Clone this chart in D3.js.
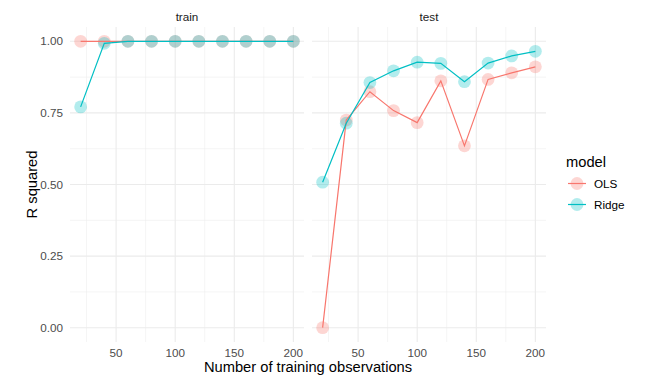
<!DOCTYPE html>
<html>
<head>
<meta charset="utf-8">
<script src="https://cdn.jsdelivr.net/npm/d3@7"></script>
<style>
  body { margin: 0; background: #fff; }
  text { font-family: "Liberation Sans", Arial, sans-serif; }
</style>
</head>
<body>
<svg id="chart" width="653" height="386"></svg>
<script>
// data
var nObs = [20, 40, 60, 80, 100, 120, 140, 160, 180, 200];
var panels = ["train", "test"];
var models = ["OLS", "Ridge"];
var trainOLS   = [1.000, 1.000, 1.000, 1.000, 1.000, 1.000, 1.000, 1.000, 1.000, 1.000];
var trainRidge = [0.771, 0.993, 1.000, 1.000, 1.000, 1.000, 1.000, 1.000, 1.000, 1.000];
var testOLS    = [0.000, 0.725, 0.824, 0.758, 0.716, 0.862, 0.635, 0.867, 0.890, 0.911];
var testRidge  = [0.508, 0.714, 0.856, 0.897, 0.927, 0.923, 0.859, 0.924, 0.949, 0.965];
var xTicks = [50, 100, 150, 200];
var xMinor = [25, 75, 125, 175];
var yTicks = [0, 0.25, 0.5, 0.75, 1];
var yMinor = [0.125, 0.375, 0.625, 0.875];

var series = {
  train: { OLS: trainOLS, Ridge: trainRidge },
  test:  { OLS: testOLS,  Ridge: testRidge }
};
var colour = d3.scaleOrdinal().domain(models).range(["#F8766D", "#00BFC4"]);

var svg = d3.select("#chart");
var plotTop = 27, plotBottom = 342;
var panelLeft = { train: 70, test: 312 };
var panelW = 234;
var ptR = 6.4;

var y = d3.scaleLinear().domain([-0.05, 1.05]).range([plotBottom, plotTop]);

panels.forEach(function(p) {
  var x = d3.scaleLinear().domain([11, 209]).range([panelLeft[p], panelLeft[p] + panelW]);
  var g = svg.append("g");

  // grid
  g.selectAll(".ymin").data(yMinor).enter().append("line")
    .attr("x1", x.range()[0]).attr("x2", x.range()[1])
    .attr("y1", y).attr("y2", y)
    .attr("stroke", "#EBEBEB").attr("stroke-width", 0.55);
  g.selectAll(".xmin").data(xMinor).enter().append("line")
    .attr("y1", plotTop).attr("y2", plotBottom)
    .attr("x1", x).attr("x2", x)
    .attr("stroke", "#EBEBEB").attr("stroke-width", 0.55);
  g.selectAll(".ymaj").data(yTicks).enter().append("line")
    .attr("x1", x.range()[0]).attr("x2", x.range()[1])
    .attr("y1", y).attr("y2", y)
    .attr("stroke", "#EBEBEB").attr("stroke-width", 1.1);
  g.selectAll(".xmaj").data(xTicks).enter().append("line")
    .attr("y1", plotTop).attr("y2", plotBottom)
    .attr("x1", x).attr("x2", x)
    .attr("stroke", "#EBEBEB").attr("stroke-width", 1.1);

  // x tick labels
  g.selectAll(".xl").data(xTicks).enter().append("text")
    .attr("x", x).attr("y", 357)
    .attr("text-anchor", "middle")
    .attr("font-size", 11.7).attr("fill", "#4D4D4D")
    .text(function(d) { return d; });

  // strip
  g.append("text")
    .attr("x", panelLeft[p] + panelW / 2).attr("y", 21)
    .attr("text-anchor", "middle")
    .attr("font-size", 11.7).attr("fill", "#1A1A1A")
    .text(p);

  // points
  models.forEach(function(m) {
    g.selectAll(".pt-" + m).data(series[p][m]).enter().append("circle")
      .attr("cx", function(d, i) { return x(nObs[i]); })
      .attr("cy", function(d) { return y(d); })
      .attr("r", ptR)
      .attr("fill", colour(m)).attr("fill-opacity", 0.3);
  });

  // lines
  var line = d3.line()
    .x(function(d, i) { return x(nObs[i]); })
    .y(function(d) { return y(d); });
  models.forEach(function(m) {
    g.append("path").datum(series[p][m])
      .attr("d", line)
      .attr("fill", "none")
      .attr("stroke", colour(m)).attr("stroke-width", 1.2);
  });
});

// y tick labels
svg.selectAll(".yl").data(yTicks).enter().append("text")
  .attr("x", 63).attr("y", function(d) { return y(d) + 4; })
  .attr("text-anchor", "end")
  .attr("font-size", 11.7).attr("fill", "#4D4D4D")
  .text(d3.format(".2f"));

// axis titles
svg.append("text")
  .attr("x", 308).attr("y", 372)
  .attr("text-anchor", "middle")
  .attr("font-size", 14.7).attr("fill", "#000")
  .text("Number of training observations");
svg.append("text")
  .attr("transform", "translate(37," + ((plotTop + plotBottom) / 2) + ") rotate(-90)")
  .attr("text-anchor", "middle")
  .attr("font-size", 14.7).attr("fill", "#000")
  .text("R squared");

// legend
var legend = svg.append("g");
legend.append("text")
  .attr("x", 566).attr("y", 167)
  .attr("font-size", 14.7).attr("fill", "#000")
  .text("model");
models.forEach(function(m, i) {
  var cy = 183.5 + i * 21;
  legend.append("circle")
    .attr("cx", 577).attr("cy", cy).attr("r", ptR)
    .attr("fill", colour(m)).attr("fill-opacity", 0.3);
  legend.append("line")
    .attr("x1", 568).attr("x2", 586).attr("y1", cy).attr("y2", cy)
    .attr("stroke", colour(m)).attr("stroke-width", 1.2);
  legend.append("text")
    .attr("x", 594).attr("y", cy + 4)
    .attr("font-size", 11.7).attr("fill", "#000")
    .text(m);
});
</script>
</body>
</html>
